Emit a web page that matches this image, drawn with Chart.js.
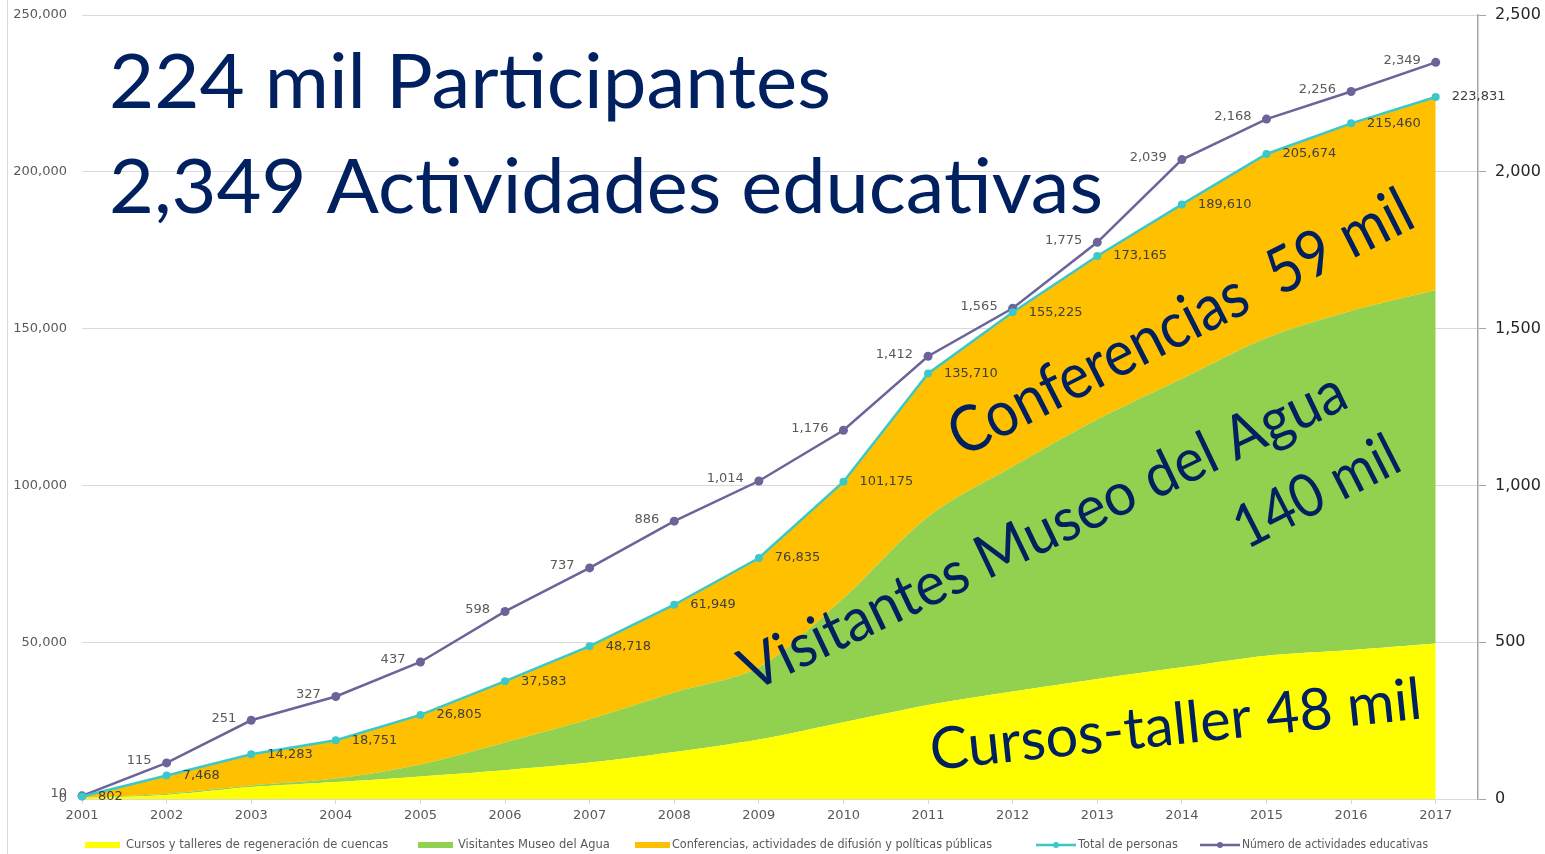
<!DOCTYPE html>
<html>
<head>
<meta charset="utf-8">
<title>Participantes y actividades educativas</title>
<script src="https://cdn.jsdelivr.net/npm/chart.js@4.4.1/dist/chart.umd.min.js"></script>
<style>
    html, body { margin: 0; padding: 0; background: #ffffff; }
    #wrap { width: 1545px; height: 854px; position: relative; }
</style>
</head>
<body>
<div id="wrap"><canvas id="chart"></canvas></div>
<script>
// datos
const years = [2001, 2002, 2003, 2004, 2005, 2006, 2007, 2008, 2009, 2010, 2011, 2012, 2013, 2014, 2015, 2016, 2017];
const cursos = [300, 1300, 3800, 5400, 7200, 9200, 11600, 15000, 19000, 24500, 30000, 34300, 38300, 42000, 45700, 47500, 49600];
const visitantes = [100, 400, 500, 1100, 3800, 8800, 13900, 19000, 23000, 39500, 60000, 71700, 82700, 92000, 101300, 108100, 112700];
const conferencias = [402, 5768, 9983, 12251, 15805, 19583, 23218, 27949, 34835, 37175, 45710, 49225, 52165, 55610, 58674, 59860, 61531];
const totalPersonas = [802, 7468, 14283, 18751, 26805, 37583, 48718, 61949, 76835, 101175, 135710, 155225, 173165, 189610, 205674, 215460, 223831];
const actividades = [10, 115, 251, 327, 437, 598, 737, 886, 1014, 1176, 1412, 1565, 1775, 2039, 2168, 2256, 2349];

const seriesNames = [
    "Cursos y talleres de regeneración de cuencas",
    "Visitantes Museo del Agua",
    "Conferencias, actividades de difusión y políticas públicas",
    "Total de personas",
    "Número de actividades educativas"
];

const colorCursos = "#FFFF00";
const colorVisitantes = "#92D050";
const colorConferencias = "#FFC000";
const colorTotal = "#3CC8C8";
const colorActividades = "#6B6499";
const colorTexto = "#002060";

const toPoints = (vals) => years.map((y, i) => ({ x: y, y: vals[i] }));
const fmt = (v) => v.toLocaleString("en-US");

// etiquetas de datos y textos grandes
const labelsPlugin = {
    id: "etiquetas",
    beforeDraw(chart) {
        const ctx = chart.ctx;
        ctx.save();
        ctx.strokeStyle = "#d9d9d9";
        ctx.lineWidth = 1;
        ctx.beginPath();
        ctx.moveTo(7.5, 0);
        ctx.lineTo(7.5, 854);
        ctx.stroke();
        ctx.restore();
    },
    afterDatasetsDraw(chart) {
        const ctx = chart.ctx;
        ctx.save();
        ctx.font = "13px 'DejaVu Sans'";
        ctx.textBaseline = "middle";

        const metaTotal = chart.getDatasetMeta(3);
        ctx.fillStyle = "#404040";
        ctx.textAlign = "left";
        metaTotal.data.forEach((pt, i) => {
            ctx.fillText(fmt(totalPersonas[i]), pt.x + 16, pt.y);
        });

        const metaAct = chart.getDatasetMeta(4);
        ctx.fillStyle = "#595959";
        ctx.textAlign = "right";
        metaAct.data.forEach((pt, i) => {
            ctx.fillText(fmt(actividades[i]), pt.x - 15, pt.y - 2);
        });
        ctx.restore();
    },
    afterDraw(chart) {
        const ctx = chart.ctx;

        function fitText(text, x, y, angle, size, width) {
            ctx.save();
            ctx.translate(x, y);
            ctx.rotate(-angle * Math.PI / 180);
            ctx.font = size + "px Lato";
            ctx.fillStyle = colorTexto;
            ctx.textAlign = "left";
            ctx.textBaseline = "alphabetic";
            const w = ctx.measureText(text).width;
            ctx.scale(width / w, 1);
            ctx.fillText(text, 0, 0);
            ctx.restore();
        }

        fitText("224 mil Participantes", 109, 108, 0, 75, 722);
        fitText("2,349 Actividades educativas", 109, 213, 0, 75, 994);
        fitText("Conferencias  59 mil", 962, 458, 27, 64, 512);
        fitText("Visitantes Museo del Agua", 752, 692, 25.5, 60, 664);
        fitText("140 mil", 1246, 550, 27, 60, 178);
        fitText("Cursos-taller 48 mil", 932, 770, 6, 58, 494);

        // leyenda
        const items = [
            { x: 85, color: colorCursos, line: false, tx: 126, w: 264 },
            { x: 418, color: colorVisitantes, line: false, tx: 458, w: 153 },
            { x: 635, color: colorConferencias, line: false, tx: 672, w: 320 },
            { x: 1036, color: colorTotal, line: true, tx: 1078, w: 100 },
            { x: 1200, color: colorActividades, line: true, tx: 1242, w: 186 }
        ];
        const ly = 845;
        ctx.save();
        ctx.font = "11.5px 'DejaVu Sans'";
        ctx.textBaseline = "middle";
        ctx.textAlign = "left";
        items.forEach((it, i) => {
            if (it.line) {
                ctx.strokeStyle = it.color;
                ctx.lineWidth = 2.5;
                ctx.beginPath();
                ctx.moveTo(it.x, ly);
                ctx.lineTo(it.x + 40, ly);
                ctx.stroke();
                ctx.fillStyle = it.color;
                ctx.beginPath();
                ctx.arc(it.x + 20, ly, 3, 0, Math.PI * 2);
                ctx.fill();
            } else {
                ctx.fillStyle = it.color;
                ctx.fillRect(it.x, ly - 3, 35, 6);
            }
            ctx.fillStyle = "#595959";
            ctx.fillText(seriesNames[i], it.tx, ly, it.w);
        });
        ctx.restore();
    }
};

const data = {
    datasets: [
        {
            label: seriesNames[0],
            data: toPoints(cursos),
            yAxisID: "y",
            stack: "personas",
            order: 1,
            fill: "origin",
            backgroundColor: colorCursos,
            borderWidth: 0,
            pointRadius: 0,
            tension: 0.3
        },
        {
            label: seriesNames[1],
            data: toPoints(visitantes),
            yAxisID: "y",
            stack: "personas",
            order: 2,
            fill: "-1",
            backgroundColor: colorVisitantes,
            borderWidth: 0,
            pointRadius: 0,
            tension: 0.3
        },
        {
            label: seriesNames[2],
            data: toPoints(conferencias),
            yAxisID: "y",
            stack: "personas",
            order: 3,
            fill: "-1",
            backgroundColor: colorConferencias,
            borderWidth: 0,
            pointRadius: 0,
            tension: 0
        },
        {
            label: seriesNames[3],
            data: toPoints(totalPersonas),
            yAxisID: "y",
            stack: "total",
            order: 0,
            fill: false,
            borderColor: colorTotal,
            backgroundColor: colorTotal,
            borderWidth: 2.5,
            pointRadius: 4,
            pointBorderWidth: 0,
            tension: 0,
            clip: false
        },
        {
            label: seriesNames[4],
            data: toPoints(actividades),
            yAxisID: "y2",
            order: 0,
            fill: false,
            borderColor: colorActividades,
            backgroundColor: colorActividades,
            borderWidth: 2.5,
            pointRadius: 4.5,
            pointBorderWidth: 0,
            tension: 0,
            clip: false
        }
    ]
};

// quitar el margen automatico de las etiquetas del eje vertical
const noPad = (s, w) => {
    s.width = w;
    s.paddingTop = 0;
    s.paddingBottom = 0;
};

const options = {
    responsive: true,
    maintainAspectRatio: false,
    animation: false,
    layout: { padding: { top: 15, bottom: 30, left: 0, right: 0 } },
    plugins: {
        legend: { display: false },
        tooltip: { enabled: false }
    },
    scales: {
        x: {
            type: "linear",
            min: 2001,
            max: 2017.5,
            ticks: {
                stepSize: 1,
                includeBounds: false,
                padding: 4,
                color: "#595959",
                font: { family: "DejaVu Sans", size: 13 },
                callback: (v) => String(v)
            },
            grid: { drawOnChartArea: false, drawTicks: true, tickLength: 5, color: "#d9d9d9" },
            border: { color: "#d9d9d9" },
            afterFit: (s) => { s.height = 25; }
        },
        y: {
            type: "linear",
            position: "left",
            stacked: true,
            min: 0,
            max: 250000,
            ticks: {
                stepSize: 50000,
                padding: 15,
                color: "#595959",
                font: { family: "DejaVu Sans", size: 13 },
                callback: (v) => fmt(v)
            },
            grid: { color: "#d9d9d9", drawTicks: false },
            border: { display: false },
            afterFit: (s) => noPad(s, 82)
        },
        y2: {
            type: "linear",
            position: "right",
            min: 0,
            max: 2500,
            ticks: {
                stepSize: 500,
                padding: 9,
                color: "#262626",
                font: { family: "DejaVu Sans", size: 16 },
                callback: (v) => fmt(v)
            },
            grid: { drawOnChartArea: false, drawTicks: true, tickLength: 8, color: "#a6a6a6" },
            border: { display: true, color: "#a6a6a6", width: 1.5 },
            afterFit: (s) => noPad(s, 67)
        }
    }
};

new Chart(document.getElementById("chart"), {
    type: "line",
    data: data,
    options: options,
    plugins: [labelsPlugin]
});
</script>
</body>
</html>
